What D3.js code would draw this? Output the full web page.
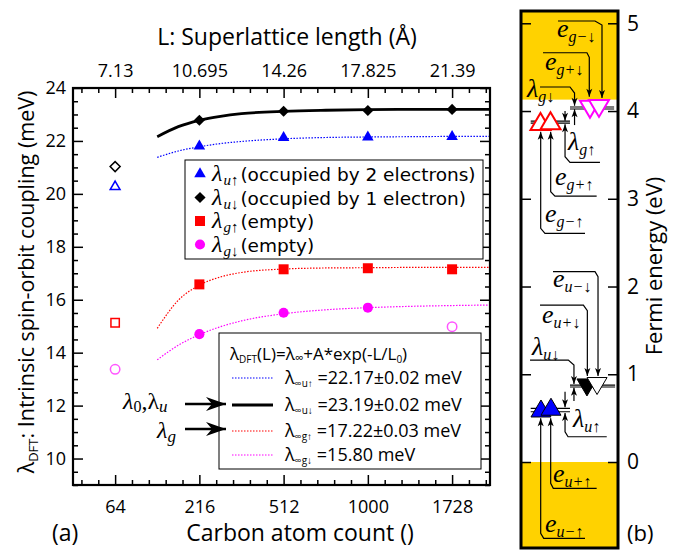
<!DOCTYPE html>
<html lang="en">
<head>
<meta charset="UTF-8">
<title>Spin-orbit coupling vs. cluster size</title>
<script src="https://cdn.jsdelivr.net/npm/d3@7"></script>
<style>
  body { margin: 0; background: #fff; }
  svg { font-family: "Open Sans", sans-serif; }
  .axis text { font-family: "Open Sans", sans-serif; fill: #000; }
  .axis path { display: none; }
  .axis line { stroke: #000; stroke-width: 1.5; }
</style>
</head>
<body>
<svg width="675" height="550"></svg>
<script>
// ---- panel (a) data ----
// cluster edge n (atom count = n^3)
const sizeN = [4, 6, 8, 10, 12];
const atomCount = ["64", "216", "512", "1000", "1728"];
const latticeLen = ["7.13", "10.695", "14.26", "17.825", "21.39"];
const yTicks = [10, 12, 14, 16, 18, 20, 22, 24];

// DFT values (meV), filled markers
const ptsN = [6, 8, 10, 12];
const lamUup = [21.80, 22.12, 22.14, 22.16];
const lamUdn = [22.78, 23.12, 23.15, 23.19];
const lamGup = [16.58, 17.15, 17.19, 17.15];
const lamGdnN = [6, 8, 10];
const lamGdn = [14.70, 15.51, 15.70];
// points left out of the fit (open markers)
const openUupN = [4], openUup = [20.27];
const openUdnN = [4], openUdn = [21.03];
const openGupN = [4], openGup = [15.13];
const openGdnN = [4, 12], openGdn = [13.37, 14.98];

// fitted curves
const curveN = [5, 5.5, 6, 6.5, 7, 8, 9, 10, 11, 12, 12.9];
const fitUup = [21.38, 21.62, 21.78, 21.90, 21.98, 22.08, 22.13, 22.15, 22.16, 22.17, 22.17];
const fitUdn = [22.16, 22.54, 22.78, 22.93, 23.03, 23.12, 23.16, 23.18, 23.19, 23.19, 23.19];
const fitGup = [14.92, 15.98, 16.55, 16.86, 17.03, 17.16, 17.20, 17.21, 17.22, 17.22, 17.22];
const fitGdn = [13.73, 14.28, 14.68, 14.98, 15.20, 15.47, 15.62, 15.70, 15.75, 15.78, 15.80];
const fitText = ["22.17±0.02 meV", "23.19±0.02 meV", "17.22±0.03 meV", "15.80 meV"];

// ---- panel (b) data (eV) ----
const fermiTicks = [0, 1, 2, 3, 4, 5];
const bandTop = [4.13, 5.14];
const bandBottom = [-0.98, 0];
const levelHi = [4.046, 3.886, 0.877, 0.611];
const levelLo = [4.023, 3.863, 0.855, 0.573];
const triNames = ["g-dn", "g+dn", "g+up", "g-up", "u-dn", "u+dn", "u+up", "u-up"];
const triE = [4.03, 4.02, 3.89, 3.88, 0.866, 0.85, 0.63, 0.61];

const svg = d3.select("svg");
const serif = "'Liberation Serif', 'DejaVu Serif', serif";

const defs = svg.append("defs");
defs.append("marker").attr("id", "bigHead")
    .attr("markerUnits", "userSpaceOnUse").attr("orient", "auto")
    .attr("viewBox", "-22 -8 24 16").attr("markerWidth", 24).attr("markerHeight", 16)
    .attr("refX", 0).attr("refY", 0)
  .append("path").attr("d", "M0,0 L-20,-7 L-14,0 L-20,7 Z").attr("fill", "#000");
defs.append("marker").attr("id", "smallHead")
    .attr("markerUnits", "userSpaceOnUse").attr("orient", "auto")
    .attr("viewBox", "-9 -4 10 8").attr("markerWidth", 10).attr("markerHeight", 8)
    .attr("refX", 0).attr("refY", 0)
  .append("path").attr("d", "M0,0 L-8,-3 L-6,0 L-8,3 Z").attr("fill", "#000");

// ================= panel (a) =================
const x = d3.scaleLinear().domain([3, 12.9]).range([73, 490]);
const y = d3.scaleLinear().domain([9, 24]).range([485, 88]);

const minorX = d3.range(3.2, 12.9, 0.4).filter(v => Math.abs(v - Math.round(v / 2) * 2) > 0.05);
const minorY = d3.range(9, 24.01, 0.5).filter(v => v % 2 !== 0);

const ga = svg.append("g");

ga.append("g").attr("class", "axis").attr("transform", "translate(0,485)")
  .call(d3.axisBottom(x).tickValues(sizeN).tickSize(-10).tickPadding(15)
    .tickFormat((d, i) => atomCount[i]))
  .selectAll("text").attr("font-size", 18);
ga.append("g").attr("class", "axis").attr("transform", "translate(0,485)")
  .call(d3.axisBottom(x).tickValues(minorX).tickSize(-5).tickFormat(""));
ga.append("g").attr("class", "axis").attr("transform", "translate(0,88)")
  .call(d3.axisTop(x).tickValues(sizeN).tickSize(-10).tickPadding(11)
    .tickFormat((d, i) => latticeLen[i]))
  .selectAll("text").attr("font-size", 18);
ga.append("g").attr("class", "axis").attr("transform", "translate(0,88)")
  .call(d3.axisTop(x).tickValues(minorX).tickSize(-5).tickFormat(""));
ga.append("g").attr("class", "axis").attr("transform", "translate(73,0)")
  .call(d3.axisLeft(y).tickValues(yTicks).tickSize(-10).tickPadding(7))
  .selectAll("text").attr("font-size", 18);
ga.append("g").attr("class", "axis").attr("transform", "translate(73,0)")
  .call(d3.axisLeft(y).tickValues(minorY).tickSize(-5).tickFormat(""));
ga.append("g").attr("class", "axis").attr("transform", "translate(490,0)")
  .call(d3.axisRight(y).tickValues(yTicks).tickSize(-10).tickFormat(""));
ga.append("g").attr("class", "axis").attr("transform", "translate(490,0)")
  .call(d3.axisRight(y).tickValues(minorY).tickSize(-5).tickFormat(""));

// fit curves
const line = d3.line().x(d => x(d[0])).y(d => y(d[1])).curve(d3.curveMonotoneX);
const fits = [
  { v: fitUup, color: "#0000ff", w: 1.2, dash: "1.5,1.5" },
  { v: fitUdn, color: "#000", w: 2.8, dash: null },
  { v: fitGup, color: "#ff0000", w: 1.2, dash: "1.5,1.5" },
  { v: fitGdn, color: "#ff00ff", w: 1.2, dash: "1.5,1.5" }
];
fits.forEach(f => {
  ga.append("path").datum(curveN.map((n, i) => [n, f.v[i]]))
    .attr("d", line).attr("fill", "none")
    .attr("stroke", f.color).attr("stroke-width", f.w)
    .attr("stroke-dasharray", f.dash);
});

// marker shapes
const tri = d3.symbol().type(d3.symbolTriangle).size(58)();
const dia = d3.symbol().type(d3.symbolSquare).size(62)();
const sq = d3.symbol().type(d3.symbolSquare).size(100)();
const circ = d3.symbol().type(d3.symbolCircle).size(80)();

function points(ns, vs, shape, fill, stroke, rot) {
  ga.append("g").selectAll("path").data(ns.map((n, i) => [n, vs[i]])).join("path")
    .attr("d", shape)
    .attr("transform", d => `translate(${x(d[0])},${y(d[1])})` + (rot ? " rotate(45)" : ""))
    .attr("fill", fill).attr("stroke", stroke).attr("stroke-width", stroke ? 1.5 : 0);
}
points(ptsN, lamUup, tri, "#0000ff", null);
points(ptsN, lamUdn, dia, "#000", null, true);
points(ptsN, lamGup, sq, "#ff0000", null);
points(lamGdnN, lamGdn, circ, "#ff00ff", null);
points(openUupN, openUup, d3.symbol().type(d3.symbolTriangle).size(42)(), "none", "#0000ff");
points(openUdnN, openUdn, d3.symbol().type(d3.symbolSquare).size(50)(), "none", "#000", true);
points(openGupN, openGup, d3.symbol().type(d3.symbolSquare).size(70)(), "none", "#ff0000");
points(openGdnN, openGdn, d3.symbol().type(d3.symbolCircle).size(70)(), "none", "#ff55ff");

// frame
ga.append("rect").attr("x", 73).attr("y", 88).attr("width", 417).attr("height", 397)
  .attr("fill", "none").attr("stroke", "#000").attr("stroke-width", 2.2);

// legend 1
const leg1 = ga.append("g");
leg1.append("rect").attr("x", 185).attr("y", 160).attr("width", 298).attr("height", 99)
  .attr("fill", "#fff").attr("stroke", "#000").attr("stroke-width", 1);
const legRows = [
  { shape: tri, fill: "#0000ff", rot: false, sub: "u↑", txt: "(occupied by 2 electrons)" },
  { shape: dia, fill: "#000", rot: true, sub: "u↓", txt: "(occupied by 1 electron)" },
  { shape: sq, fill: "#ff0000", rot: false, sub: "g↑", txt: "(empty)" },
  { shape: circ, fill: "#ff00ff", rot: false, sub: "g↓", txt: "(empty)" }
];
legRows.forEach((r, i) => {
  const cy = 174 + i * 23.5;
  leg1.append("path").attr("d", r.shape).attr("fill", r.fill)
    .attr("transform", `translate(200,${cy})` + (r.rot ? " rotate(45)" : ""));
  const t = leg1.append("text").attr("x", 212).attr("y", cy + 7);
  t.append("tspan").attr("font-family", serif).attr("font-style", "italic")
    .attr("font-size", 24).text("λ");
  t.append("tspan").attr("font-family", serif).attr("font-style", "italic")
    .attr("font-size", 15).attr("dx", 1).attr("dy", 4).text(r.sub);
  t.append("tspan").attr("font-family", "'DejaVu Sans', sans-serif")
    .attr("font-size", 18.5).attr("dy", -4).attr("dx", 2).text(r.txt);
});

// legend 2
const leg2 = ga.append("g");
leg2.append("rect").attr("x", 219).attr("y", 333).attr("width", 262).attr("height", 136)
  .attr("fill", "#fff").attr("stroke", "#000").attr("stroke-width", 1);
const ttl = leg2.append("text").attr("x", 230).attr("y", 360).attr("font-size", 17);
ttl.append("tspan").text("λ");
ttl.append("tspan").attr("font-size", 10).attr("dy", 3).text("DFT");
ttl.append("tspan").attr("dy", -3).text("(L)=λ");
ttl.append("tspan").attr("font-size", 12).attr("dy", 2).text("∞");
ttl.append("tspan").attr("dy", -2).text("+A*exp(-L/L");
ttl.append("tspan").attr("font-size", 10).attr("dy", 3).text("0");
ttl.append("tspan").attr("dy", -3).text(")");
const subs2 = ["∞u↑", "∞u↓", "∞g↑", "∞g↓"];
const rowY2 = [378, 405, 431, 455];
fits.forEach((f, i) => {
  const cy = rowY2[i];
  leg2.append("line").attr("x1", 232).attr("x2", 273).attr("y1", cy).attr("y2", cy)
    .attr("stroke", f.color).attr("stroke-width", f.w === 2.8 ? 3 : 1.2)
    .attr("stroke-dasharray", f.dash);
  const t = leg2.append("text").attr("x", 285).attr("y", cy + 6).attr("font-size", 18);
  t.append("tspan").text("λ");
  t.append("tspan").attr("font-size", 10).attr("dy", 3).text(subs2[i]);
  t.append("tspan").attr("dy", -3).text(" =" + fitText[i]);
});

// λ0,λu and λg pointers
const ptr = ga.append("g");
const p1 = ptr.append("text").attr("x", 123).attr("y", 409)
  .attr("font-family", serif).attr("font-style", "italic").attr("font-size", 24);
p1.append("tspan").text("λ");
p1.append("tspan").attr("font-size", 16).attr("dy", 3).attr("font-style", "normal").text("0");
p1.append("tspan").attr("dy", -3).attr("font-style", "normal").text(",λ");
p1.append("tspan").attr("font-size", 17).attr("dy", 3).text("u");
const p2 = ptr.append("text").attr("x", 157).attr("y", 438)
  .attr("font-family", serif).attr("font-style", "italic").attr("font-size", 24);
p2.append("tspan").text("λ");
p2.append("tspan").attr("font-size", 17).attr("dy", 4).text("g");
[404, 429].forEach(yy => {
  ptr.append("line").attr("x1", 185).attr("x2", 226).attr("y1", yy).attr("y2", yy)
    .attr("stroke", "#000").attr("stroke-width", 2.5).attr("marker-end", "url(#bigHead)");
});

// axis titles
svg.append("text").attr("x", 287).attr("y", 45).attr("text-anchor", "middle")
  .attr("font-size", 23).text("L: Superlattice length (Å)");
svg.append("text").attr("x", 300).attr("y", 541).attr("text-anchor", "middle")
  .attr("font-size", 23).text("Carbon atom count ()");
svg.append("text").attr("x", 52).attr("y", 541).attr("font-size", 23).text("(a)");
const yt = svg.append("text").attr("transform", "translate(34,282) rotate(-90)")
  .attr("text-anchor", "middle").attr("font-size", 21.5);
yt.append("tspan").text("λ");
yt.append("tspan").attr("font-size", 13).attr("dy", 4).text("DFT");
yt.append("tspan").attr("dy", -4).text(": Intrinsic spin-orbit coupling (meV)");

// ================= panel (b) =================
const xb = d3.scaleLinear().domain([0, 100]).range([521, 618]);
const yb = d3.scaleLinear().domain([-0.98, 5.14]).range([548, 11]);
const gb = svg.append("g");

gb.append("rect").attr("x", xb(0)).attr("width", xb(100) - xb(0))
  .attr("y", yb(bandTop[1])).attr("height", yb(bandTop[0]) - yb(bandTop[1]))
  .attr("fill", "#ffd200");
gb.append("rect").attr("x", xb(0)).attr("width", xb(100) - xb(0))
  .attr("y", yb(bandBottom[1])).attr("height", yb(bandBottom[0]) - yb(bandBottom[1]))
  .attr("fill", "#ffd200");

gb.append("g").attr("class", "axis").attr("transform", `translate(${xb(0)},0)`)
  .call(d3.axisLeft(yb).tickValues(fermiTicks).tickSize(-10).tickFormat(""));
gb.append("g").attr("class", "axis").attr("transform", `translate(${xb(100)},0)`)
  .call(d3.axisRight(yb).tickValues(fermiTicks).tickSize(-10).tickPadding(9)
    .tickFormat(d3.format("d")))
  .selectAll("text").attr("font-size", 21);

// level lines (pairs)
const levelSpan = [[50.5, 96], [10, 50.5], [50.5, 97], [10, 50.5]];
levelHi.forEach((e, i) => {
  [e, levelLo[i]].forEach(v => {
    gb.append("line").attr("x1", xb(levelSpan[i][0])).attr("x2", xb(levelSpan[i][1]))
      .attr("y1", yb(v)).attr("y2", yb(v)).attr("stroke", "#000").attr("stroke-width", 1.2);
  });
});

// triangles
const triX = [80.4, 71.1, 30.4, 20.1, 78.4, 68, 30.9, 20.6];
const triStyle = {
  "g-dn": ["#fff", "#ff00ff", -1], "g+dn": ["#fff", "#ff00ff", -1],
  "g+up": ["#fff", "#ff0000", 1], "g-up": ["#fff", "#ff0000", 1],
  "u-dn": ["#fff", "#000", -1], "u+dn": ["#000", "#000", -1],
  "u+up": ["#0000ff", "#000", 1], "u-up": ["#0000ff", "#000", 1]
};
const drawOrder = [1, 0, 3, 2, 5, 4, 7, 6];
drawOrder.forEach(i => {
  const s = triStyle[triNames[i]];
  const cx = xb(triX[i]), cy = yb(triE[i]), h = 8.5 * s[2];
  gb.append("path")
    .attr("d", `M${cx - 10},${cy + h} L${cx + 10},${cy + h} L${cx},${cy - h} Z`)
    .attr("fill", s[0]).attr("stroke", s[1]).attr("stroke-width", s[1] === "#000" ? 1 : 2);
});

// short pinch arrows
const pinch = [[45.4, 4.0, 3.89], [55.2, 3.84, 4.02], [54.6, 0.695, 0.845], [45.4, 0.80, 0.625]];
pinch.forEach(p => {
  gb.append("line").attr("x1", xb(p[0])).attr("x2", xb(p[0]))
    .attr("y1", yb(p[1])).attr("y2", yb(p[2]))
    .attr("stroke", "#000").attr("stroke-width", 1.2).attr("marker-end", "url(#smallHead)");
});

// labelled leader arrows: [main, sub, label u, label E, path]
const leaders = [
  ["e", "g−↓", 37, 4.843, [[38.1, 5.026], [76.3, 5.026], [83.5, 4.98], [83.5, 4.148]]],
  ["e", "g+↓", 24.7, 4.467, [[22.7, 4.664], [68, 4.664], [70.4, 4.612], [70.4, 4.163]]],
  ["λ", "g↓", 6.2, 4.16, [[19.6, 4.274], [50.5, 4.274], [55.2, 4.205], [55.2, 4.06]]],
  ["λ", "g↑", 48.5, 3.556, [[81.4, 3.415], [50.5, 3.415], [45.4, 3.479], [45.4, 3.85]]],
  ["e", "g+↑", 35, 3.157, [[78, 3.031], [35, 3.031], [30.6, 3.08], [30.6, 3.764]]],
  ["e", "g−↑", 24.7, 2.738, [[66, 2.606], [24.7, 2.606], [20.3, 2.663], [20.3, 3.764]]],
  ["e", "u−↓", 33, 1.998, [[33, 2.169], [76.3, 2.169], [79.4, 2.112], [79.4, 0.98]]],
  ["e", "u+↓", 21.6, 1.584, [[19.6, 1.789], [64.3, 1.789], [68.4, 1.724], [68.4, 0.98]]],
  ["λ", "u↓", 11.3, 1.219, [[9.3, 1.162], [48.8, 1.162], [54.6, 1.105], [54.6, 0.89]]],
  ["λ", "u↑", 53.6, 0.399, [[88.4, 0.288], [48.5, 0.288], [45.4, 0.345], [45.4, 0.558]]],
  ["e", "u+↑", 33, -0.225, [[78, -0.3], [33.3, -0.3], [30.6, -0.243], [30.6, 0.5]]],
  ["e", "u−↑", 24.7, -0.794, [[66, -0.87], [23.4, -0.87], [20.3, -0.813], [20.3, 0.5]]]
];
const lb = d3.line().x(d => xb(d[0])).y(d => yb(d[1]));
leaders.forEach(l => {
  gb.append("path").attr("d", lb(l[4])).attr("fill", "none")
    .attr("stroke", "#000").attr("stroke-width", 1.2).attr("marker-end", "url(#smallHead)");
  const t = gb.append("text").attr("x", xb(l[2])).attr("y", yb(l[3]))
    .attr("font-family", serif).attr("font-style", "italic").attr("font-size", 26);
  t.append("tspan").text(l[0]);
  t.append("tspan").attr("font-size", 16).attr("dy", 5).text(l[1]);
});

gb.append("rect").attr("x", xb(0)).attr("y", yb(5.14)).attr("width", xb(100) - xb(0))
  .attr("height", yb(-0.98) - yb(5.14)).attr("fill", "none")
  .attr("stroke", "#000").attr("stroke-width", 3);

svg.append("text").attr("transform", "translate(662,266) rotate(-90)")
  .attr("text-anchor", "middle").attr("font-size", 22).text("Fermi energy (eV)");
svg.append("text").attr("x", 627).attr("y", 541).attr("font-size", 22).text("(b)");
</script>
</body>
</html>
